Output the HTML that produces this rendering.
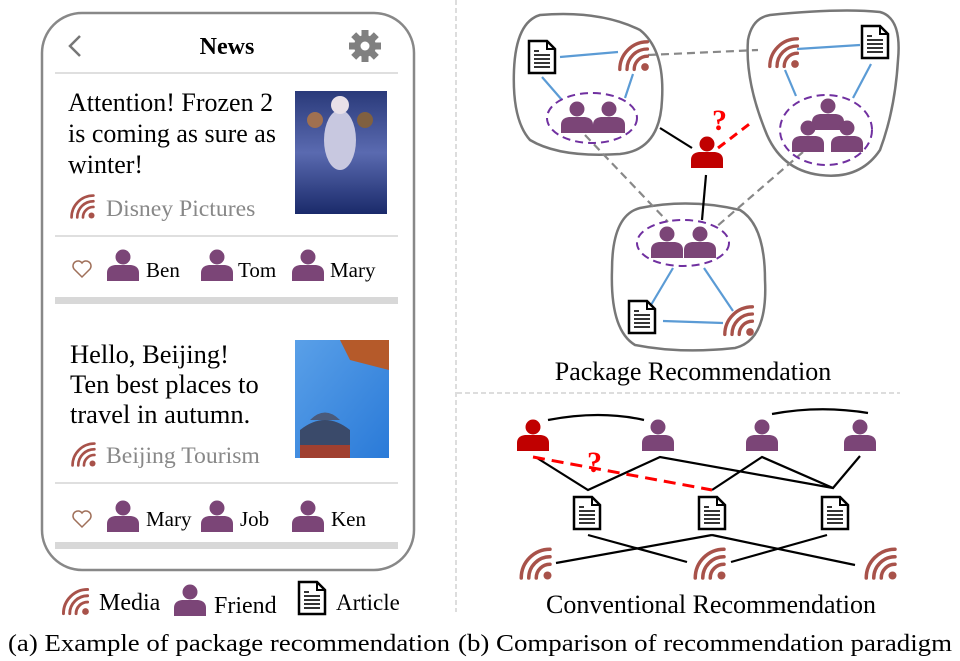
<!DOCTYPE html>
<html><head><meta charset="utf-8"><style>
html,body{margin:0;padding:0;background:#fff;}
svg{display:block;font-family:"Liberation Serif",serif;}
</style></head><body>
<svg width="960" height="661" viewBox="0 0 960 661" xmlns="http://www.w3.org/2000/svg">
<defs>
  <g id="per"><circle cx="0" cy="-8" r="7.5" fill="#7b4577"/><path d="M-16 16 V8 Q-16 1 -8 0 H8 Q16 1 16 8 V16 Z" fill="#7b4577"/></g>
  <g id="red"><circle cx="0" cy="-8" r="7.5" fill="#c00000"/><path d="M-16 16 V8 Q-16 1 -8 0 H8 Q16 1 16 8 V16 Z" fill="#c00000"/></g>
  <g id="med" fill="none" stroke="#a8524a" stroke-width="2.8" stroke-linecap="round">
    <path d="M-11 12 A23 23 0 0 1 12 -11"/><path d="M-5 12 A17 17 0 0 1 12 -5"/><path d="M1 12 A11 11 0 0 1 12 1"/>
    <circle cx="10" cy="10" r="3.2" fill="#a8524a" stroke="none"/></g>
  <g id="doc"><path d="M-13 -16 H5 L13 -8 V16 H-13 Z" fill="#fff" stroke="#000" stroke-width="2.5"/><path d="M5 -16 V-8 H13" fill="none" stroke="#000" stroke-width="2"/>
    <g stroke="#000" stroke-width="1.6"><line x1="-8" y1="-6" x2="-3" y2="-6"/><line x1="-8" y1="-2" x2="8" y2="-2"/><line x1="-8" y1="2" x2="8" y2="2"/><line x1="-8" y1="6" x2="8" y2="6"/><line x1="-8" y1="10" x2="8" y2="10"/></g></g>
  <path id="heart" d="M0 9 L-8 1 A4.5 4.5 0 0 1 0 -5 A4.5 4.5 0 0 1 8 1 Z" fill="none" stroke="#a0705a" stroke-width="1.5"/>
</defs>

<line x1="456" y1="0" x2="456" y2="612" stroke="#bbb" stroke-width="1" stroke-dasharray="5,3"/>
<line x1="457" y1="393" x2="900" y2="393" stroke="#bbb" stroke-width="1" stroke-dasharray="5,3"/>

<rect x="42" y="13" width="372" height="557" rx="40" fill="none" stroke="#888" stroke-width="2.5"/>
<path d="M80 36 L70 46 L80 56" fill="none" stroke="#777" stroke-width="2.5"/>
<text x="227" y="54" font-size="24" font-weight="bold" text-anchor="middle">News</text>
<g transform="translate(365,46)" fill="#808080">
  <circle r="11"/>
  <g><rect x="-3.5" y="-16" width="7" height="32"/><rect x="-16" y="-3.5" width="32" height="7"/>
  <rect x="-3.5" y="-16" width="7" height="32" transform="rotate(45)"/><rect x="-3.5" y="-16" width="7" height="32" transform="rotate(-45)"/></g>
  <circle r="4.5" fill="#fff"/>
</g>
<line x1="55" y1="73" x2="398" y2="73" stroke="#ccc" stroke-width="1.2"/>
<g font-size="26">
<text x="68" y="111">Attention! Frozen 2</text>
<text x="68" y="142">is coming as sure as</text>
<text x="68" y="173">winter!</text>
</g>
<use href="#med" transform="translate(82,206) scale(0.95)"/>
<text x="106" y="216" font-size="23.7" fill="#888">Disney Pictures</text>
<defs><linearGradient id="fz" x1="0" y1="0" x2="0" y2="1"><stop offset="0" stop-color="#2a3a7a"/><stop offset="0.5" stop-color="#5a6ab0"/><stop offset="1" stop-color="#1a2a6a"/></linearGradient>
<linearGradient id="sky" x1="0" y1="0" x2="1" y2="1"><stop offset="0" stop-color="#5aa0e8"/><stop offset="1" stop-color="#2a7ad8"/></linearGradient></defs>
<rect x="295" y="91" width="92" height="123" fill="url(#fz)"/>
<ellipse cx="340" cy="140" rx="16" ry="30" fill="#c8c8e0"/><circle cx="340" cy="105" r="9" fill="#e8e0e8"/>
<circle cx="315" cy="120" r="8" fill="#a07050"/><circle cx="365" cy="120" r="8" fill="#806040"/>
<rect x="295" y="340" width="94" height="118" fill="url(#sky)"/>
<path d="M340 340 H389 V370 L350 360 Z" fill="#b55a2a"/>
<path d="M300 430 Q325 410 350 430 V458 H300 Z" fill="#3a4a6a"/><path d="M310 420 Q325 405 340 420 Z" fill="#4a5a7a"/><rect x="300" y="445" width="50" height="13" fill="#a04030"/>
<line x1="55" y1="236" x2="398" y2="236" stroke="#ccc" stroke-width="1.2"/>
<use href="#heart" transform="translate(82,268)"/>
<use href="#per" transform="translate(123,265)"/><text x="146" y="277" font-size="21">Ben</text>
<use href="#per" transform="translate(217,265)"/><text x="238" y="277" font-size="21">Tom</text>
<use href="#per" transform="translate(308,265)"/><text x="330" y="277" font-size="21">Mary</text>
<rect x="55" y="297" width="343" height="7" fill="#d8d8d8"/>
<g font-size="26.5">
<text x="70" y="363">Hello, Beijing!</text>
<text x="70" y="393">Ten best places to</text>
<text x="70" y="423">travel in autumn.</text>
</g>
<use href="#med" transform="translate(83,454) scale(0.95)"/>
<text x="106" y="463" font-size="23.7" fill="#888">Beijing Tourism</text>
<line x1="55" y1="483" x2="398" y2="483" stroke="#ccc" stroke-width="1.2"/>
<use href="#heart" transform="translate(82,518)"/>
<use href="#per" transform="translate(123,516)"/><text x="146" y="526" font-size="21">Mary</text>
<use href="#per" transform="translate(217,516)"/><text x="240" y="526" font-size="21">Job</text>
<use href="#per" transform="translate(308,516)"/><text x="331" y="526" font-size="21">Ken</text>
<rect x="55" y="542" width="343" height="7" fill="#d8d8d8"/>

<use href="#med" transform="translate(75,601) scale(1.05)"/><text x="99" y="610" font-size="24">Media</text>
<use href="#per" transform="translate(190,600)"/><text x="214" y="613" font-size="24">Friend</text>
<use href="#doc" transform="translate(312,598)"/><text x="336" y="610" font-size="23">Article</text>
<text x="8" y="651" font-size="24" textLength="442" lengthAdjust="spacingAndGlyphs">(a) Example of package recommendation</text>
<text x="458" y="651" font-size="24" textLength="494" lengthAdjust="spacingAndGlyphs">(b) Comparison of recommendation paradigm</text>

<g fill="none" stroke="#777" stroke-width="2.5">
<path d="M540 15 Q600 10 640 30 Q665 50 662 100 Q660 150 620 154 Q560 158 530 140 Q512 120 514 70 Q516 22 540 15 Z"/>
<path d="M770 15 Q840 8 880 12 Q902 18 898 60 Q895 110 880 150 Q860 180 820 175 Q780 170 765 130 Q745 80 748 40 Q752 18 770 15 Z"/>
<path d="M640 208 Q690 198 740 210 Q765 225 765 280 Q768 340 735 348 Q680 354 635 345 Q610 330 612 270 Q612 215 640 208 Z"/>
</g>
<g stroke="#5b9bd5" stroke-width="2.2">
<line x1="560" y1="57" x2="618" y2="52"/><line x1="542" y1="77" x2="562" y2="100"/><line x1="633" y1="74" x2="625" y2="98"/>
<line x1="797" y1="49" x2="860" y2="45"/><line x1="785" y1="70" x2="796" y2="96"/><line x1="871" y1="64" x2="853" y2="98"/>
<line x1="673" y1="268" x2="651" y2="305"/><line x1="704" y1="268" x2="733" y2="311"/><line x1="663" y1="321" x2="723" y2="323"/>
</g>
<g stroke="#888" stroke-width="2.2" stroke-dasharray="8,5">
<line x1="648" y1="55" x2="758" y2="50"/><line x1="585" y1="135" x2="668" y2="222"/><line x1="803" y1="152" x2="715" y2="228"/>
</g>
<g stroke="#000" stroke-width="2.2"><line x1="660" y1="128" x2="692" y2="148"/><line x1="706" y1="175" x2="702" y2="220"/></g>
<line x1="718" y1="148" x2="752" y2="122" stroke="#f00" stroke-width="3" stroke-dasharray="9,6"/>
<text x="712" y="130" font-size="30" font-weight="bold" fill="#f00">?</text>
<g fill="none" stroke="#7030a0" stroke-width="2" stroke-dasharray="8,5">
<ellipse cx="592" cy="118" rx="45" ry="25"/><ellipse cx="826" cy="130" rx="46" ry="35"/><ellipse cx="683" cy="243" rx="46" ry="23"/>
</g>
<use href="#doc" transform="translate(542,57)"/><use href="#med" transform="translate(633,55) scale(1.2)"/>
<use href="#per" transform="translate(577,117)"/><use href="#per" transform="translate(609,117)"/>
<use href="#med" transform="translate(783,52) scale(1.2)"/><use href="#doc" transform="translate(875,42)"/>
<use href="#per" transform="translate(828,114)"/><use href="#per" transform="translate(808,136)"/><use href="#per" transform="translate(847,136)"/>
<use href="#red" transform="translate(707,152)"/>
<use href="#per" transform="translate(667,242)"/><use href="#per" transform="translate(700,242)"/>
<use href="#doc" transform="translate(642,317)"/><use href="#med" transform="translate(738,320) scale(1.2)"/>
<text x="693" y="380" font-size="26" text-anchor="middle">Package Recommendation</text>

<g fill="none" stroke="#000" stroke-width="2.2">
<path d="M548 420 Q600 410 644 420"/><path d="M772 414 Q820 405 868 413"/>
<polyline points="537,458 588,490 660,457 833,488"/><polyline points="712,490 762,457 833,488 860,456"/>
<line x1="588" y1="535" x2="687" y2="562"/><line x1="556" y1="563" x2="712" y2="535"/><line x1="712" y1="535" x2="855" y2="565"/><line x1="731" y1="562" x2="827" y2="535"/>
</g>
<line x1="533" y1="457" x2="712" y2="490" stroke="#f00" stroke-width="3" stroke-dasharray="12,7"/>
<text x="587" y="472" font-size="30" font-weight="bold" fill="#f00">?</text>
<use href="#red" transform="translate(533,435)"/><use href="#per" transform="translate(658,435)"/>
<use href="#per" transform="translate(762,435)"/><use href="#per" transform="translate(860,435)"/>
<use href="#doc" transform="translate(587,513)"/><use href="#doc" transform="translate(712,513)"/><use href="#doc" transform="translate(835,513)"/>
<use href="#med" transform="translate(535,563) scale(1.25)"/><use href="#med" transform="translate(709,563) scale(1.25)"/><use href="#med" transform="translate(880,563) scale(1.25)"/>
<text x="711" y="613" font-size="26" text-anchor="middle">Conventional Recommendation</text>
</svg>
</body></html>
